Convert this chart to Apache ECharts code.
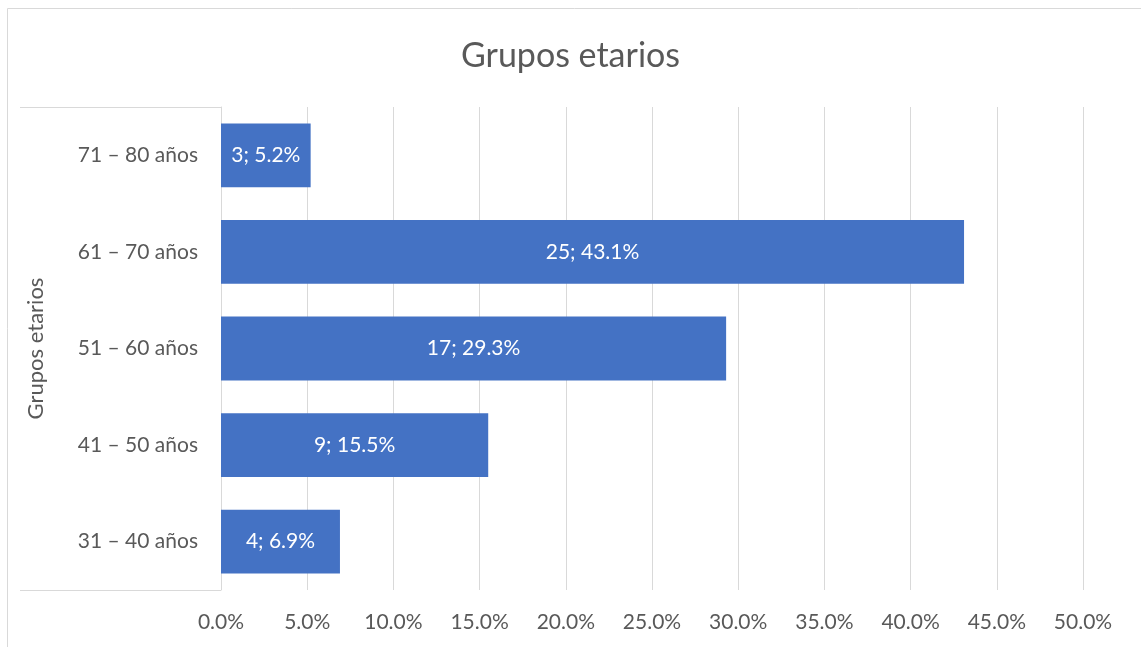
<!DOCTYPE html>
<html>
<head>
<meta charset="utf-8">
<script src="https://cdn.jsdelivr.net/npm/echarts@6/dist/echarts.min.js"></script>
<style>
    html, body { margin: 0; padding: 0; background: #fff; }
    #chart { width: 1141px; height: 647px; }
</style>
</head>
<body>
<div id="chart"></div>
<script>
    // datos
    const categories = ['31 – 40 años', '41 – 50 años', '51 – 60 años', '61 – 70 años', '71 – 80 años'];
    const counts = [4, 9, 17, 25, 3];
    const percents = [6.9, 15.5, 29.3, 43.1, 5.2];
    const xTicks = [0, 5, 10, 15, 20, 25, 30, 35, 40, 45, 50];

    const font = 'Lato';
    const grey = '#595959';
    const lineGrey = '#d9d9d9';

    const chart = echarts.init(document.getElementById('chart'));
    chart.setOption({
        title: {
            text: 'Grupos etarios',
            left: 'center',
            top: 34,
            textStyle: { color: grey, fontSize: 34, fontWeight: 'normal', fontFamily: font }
        },
        grid: { left: 221, right: 58, top: 107, bottom: 57 },
        xAxis: {
            type: 'value',
            min: xTicks[0],
            max: xTicks[xTicks.length - 1],
            interval: 5,
            axisLine: { show: false },
            axisTick: { show: false },
            axisLabel: {
                color: grey, fontSize: 21, fontFamily: font, margin: 22,
                formatter: v => v.toFixed(1) + '%'
            },
            splitLine: { lineStyle: { color: lineGrey, width: 1 } }
        },
        yAxis: {
            type: 'category',
            data: categories,
            name: 'Grupos etarios',
            nameLocation: 'middle',
            nameRotate: 90,
            nameGap: 174,
            nameTextStyle: { color: grey, fontSize: 22, fontFamily: font },
            axisLine: { lineStyle: { color: lineGrey, width: 1 } },
            axisTick: { show: false },
            axisLabel: { color: grey, fontSize: 21, fontFamily: font, margin: 23 }
        },
        graphic: [
            { type: 'rect', shape: { x: 7.5, y: 8.5, width: 1200, height: 700 }, style: { fill: 'none', stroke: lineGrey, lineWidth: 1 }, silent: true },
            { type: 'line', shape: { x1: 20, y1: 107.5, x2: 221, y2: 107.5 }, style: { stroke: lineGrey, lineWidth: 1 }, silent: true },
            { type: 'line', shape: { x1: 20, y1: 590.5, x2: 221, y2: 590.5 }, style: { stroke: lineGrey, lineWidth: 1 }, silent: true }
        ],
        series: [{
            type: 'bar',
            data: percents,
            barCategoryGap: '34%',
            itemStyle: { color: '#4472c4' },
            label: {
                show: true,
                position: 'inside',
                color: '#fff',
                fontSize: 21,
                fontFamily: font,
                formatter: p => counts[p.dataIndex] + '; ' + p.value.toFixed(1) + '%'
            }
        }]
    });
</script>
</body>
</html>
